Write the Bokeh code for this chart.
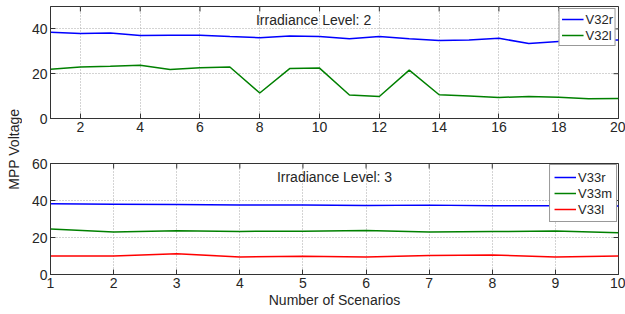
import math
from bokeh.plotting import figure
from bokeh.models import Div, Label, Legend, FixedTicker, Range1d
from bokeh.layouts import column, row
from bokeh.embed import file_html
from bokeh.resources import INLINE

# Irradiance level 2
x2 = list(range(1, 21))
v32r = [38.5, 38.0, 38.2, 37.0, 37.2, 37.2, 36.6, 36.1, 36.8, 36.6, 35.6, 36.6, 35.6, 34.8, 35.0, 35.8, 33.5, 34.4, 34.8, 35.0]
v32l = [22.0, 23.0, 23.3, 23.8, 21.9, 22.7, 23.0, 11.4, 22.3, 22.5, 10.5, 9.8, 21.6, 10.6, 10.0, 9.4, 9.8, 9.5, 8.8, 8.9]
ticks2 = [2, 4, 6, 8, 10, 12, 14, 16, 18, 20]
yticks2 = [0, 20, 40]

# Irradiance level 3
x3 = list(range(1, 11))
v33r = [38.2, 38.0, 37.8, 37.6, 37.6, 37.3, 37.5, 37.2, 37.1, 37.0]
v33m = [24.6, 23.0, 23.7, 23.3, 23.4, 23.8, 23.0, 23.2, 23.5, 22.6]
v33l = [10.0, 10.0, 11.2, 9.5, 9.8, 9.4, 10.3, 10.6, 9.4, 10.0]
ticks3 = list(range(1, 11))
yticks3 = [0, 20, 40, 60]

FONT = "Liberation Sans"
AX = "#333333"


def style(p, xt, yt, xmax, ymax):
    p.outline_line_color = AX
    p.outline_line_width = 1
    for ax in p.xaxis + p.yaxis:
        ax.major_tick_in = 5
        ax.major_tick_out = 0
        ax.minor_tick_in = 0
        ax.minor_tick_out = 0
        ax.axis_line_color = AX
        ax.major_tick_line_color = AX
        ax.major_label_text_font = FONT
        ax.major_label_text_font_size = "14px"
        ax.major_label_text_color = "#262626"
        ax.major_label_standoff = 3
    p.xaxis.ticker = FixedTicker(ticks=xt)
    p.yaxis.ticker = FixedTicker(ticks=yt)
    p.xgrid.ticker = FixedTicker(ticks=xt)
    p.ygrid.ticker = FixedTicker(ticks=yt)
    p.grid.grid_line_color = "#a8a8a8"
    p.grid.grid_line_dash = "1 2"
    # inward box ticks on top and right edges (markers clipped by the frame)
    p.scatter(xt, [ymax] * len(xt), marker="dash", size=10, angle=math.pi / 2,
              line_color=AX, line_width=1)
    p.scatter([xmax] * len(yt), yt, marker="dash", size=10, line_color=AX, line_width=1)


def legend(p, items, mg, lh, pad):
    lg = Legend(items=items, location="top_right", margin=mg, padding=pad, spacing=0,
                label_height=lh, glyph_height=lh, glyph_width=22, label_standoff=2,
                label_text_font=FONT, label_text_font_size="13px", label_text_color="#262626",
                border_line_color="#333333", border_line_width=1, background_fill_alpha=1)
    p.add_layout(lg, "center")


p1 = figure(width=597, height=140, x_range=Range1d(1, 20), y_range=Range1d(0, 50),
            output_backend="svg", toolbar_location=None,
            min_border_left=21, min_border_right=7, min_border_top=6, min_border_bottom=22)
style(p1, ticks2, yticks2, 20, 50)
r1 = p1.line(x2, v32r, line_color="#0000ff", line_width=1.5)
r2 = p1.line(x2, v32l, line_color="#008000", line_width=1.5)
legend(p1, [("V32r", [r1]), ("V32l", [r2])], 2, 16, 2)
p1.add_layout(Label(x=9.8, y=50, y_offset=-5, text="Irradiance Level: 2", text_align="center",
                    text_baseline="top", text_font=FONT, text_font_size="14px", text_color="#262626"))

p2 = figure(width=597, height=174, x_range=Range1d(1, 10), y_range=Range1d(0, 60),
            output_backend="svg", toolbar_location=None,
            min_border_left=21, min_border_right=7, min_border_top=23, min_border_bottom=40)
style(p2, ticks3, yticks3, 10, 60)
q1 = p2.line(x3, v33r, line_color="#0000ff", line_width=1.5)
q2 = p2.line(x3, v33m, line_color="#008000", line_width=1.5)
q3 = p2.line(x3, v33l, line_color="#ff0000", line_width=1.5)
legend(p2, [("V33r", [q1]), ("V33m", [q2]), ("V33l", [q3])], 1, 16, 4)
p2.add_layout(Label(x=5.5, y=60, y_offset=-5, text="Irradiance Level: 3", text_align="center",
                    text_baseline="top", text_font=FONT, text_font_size="14px", text_color="#262626"))
xa = p2.xaxis[0]
xa.axis_label = "Number of Scenarios"
xa.axis_label_text_font = FONT
xa.axis_label_text_font_size = "14px"
xa.axis_label_text_font_style = "normal"
xa.axis_label_text_color = "#262626"
xa.axis_label_standoff = 1

ylab = Div(text='<div style="width:28px;height:298px;display:flex;align-items:center;justify-content:center;">'
                '<span style="writing-mode:vertical-rl;transform:rotate(180deg);font-family:\'Liberation Sans\';'
                'font-size:14px;color:#262626;white-space:nowrap;">MPP Voltage</span></div>',
           width=28, height=298, margin=0)

p1.margin = 0
p2.margin = 0
col = column(p1, p2, spacing=0, margin=0)
layout = row(ylab, col, spacing=0, margin=0)

open("out.html", "w").write(file_html(layout, INLINE))
